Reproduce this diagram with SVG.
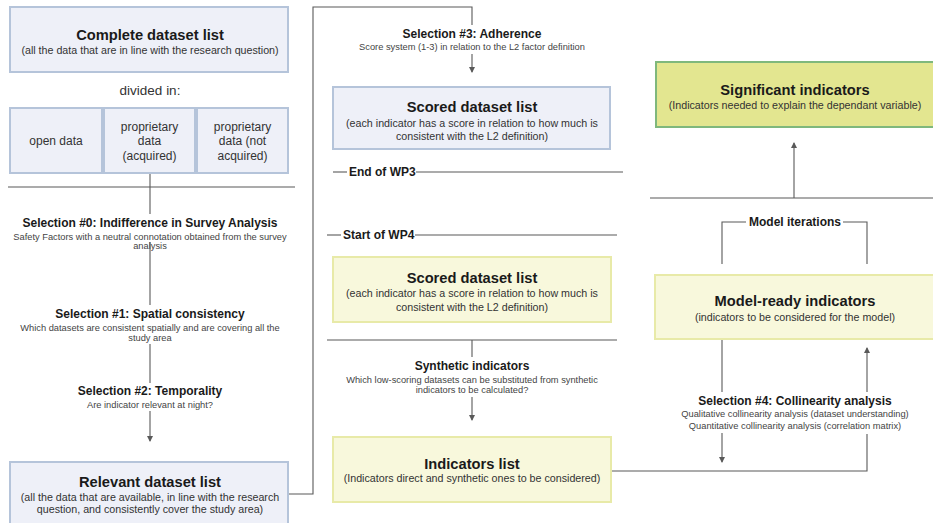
<svg xmlns="http://www.w3.org/2000/svg" width="933" height="523" viewBox="0 0 933 523">
<defs>
<style>
text{font-family:"Liberation Sans",Arial,sans-serif;text-anchor:middle;}
.bt{font-size:14.7px;font-weight:bold;fill:#1a1a1a;}
.bs{font-size:10.7px;fill:#333;}
.st{font-size:12px;font-weight:bold;fill:#1a1a1a;}
.ss{font-size:9.3px;fill:#444;}
.sm{font-size:12px;fill:#333;}
.blue{fill:#eef0f8;stroke:#b5c4da;stroke-width:2;}
.yel{fill:#f8f8dc;stroke:#e8eaa8;stroke-width:2;}
.grn{fill:#e3e690;stroke:#7fb87c;stroke-width:2;}
.ln{fill:none;stroke:#595959;stroke-width:1.1;}
</style>
<marker id="ah" markerWidth="6" markerHeight="6" refX="5" refY="3" orient="auto" markerUnits="userSpaceOnUse">
<path d="M0,0 L6,3 L0,6 Z" fill="#595959"/>
</marker>
</defs>
<rect width="933" height="523" fill="#ffffff"/>

<g id="connectors">
<line class="ln" x1="8" y1="187" x2="295" y2="187"/>
<path class="ln" d="M150,173 V214"/>
<path class="ln" d="M150,242 V305"/>
<path class="ln" d="M150,344 V383"/>
<path class="ln" d="M150,411 V441" marker-end="url(#ah)"/>
<path class="ln" d="M288,494 H313 V7 H472 V25"/>
<path class="ln" d="M472,54 V72" marker-end="url(#ah)"/>
<path class="ln" d="M333,172 H347"/>
<path class="ln" d="M416,172 H623"/>
<path class="ln" d="M327,235 H341"/>
<path class="ln" d="M415,235 H617"/>
<path class="ln" d="M327,340 H617"/>
<path class="ln" d="M472,340 V357"/>
<path class="ln" d="M472,397 V420" marker-end="url(#ah)"/>
<path class="ln" d="M611,471 H867 V434"/>
<path class="ln" d="M867,392 V348" marker-end="url(#ah)"/>
<path class="ln" d="M722,340 V392"/>
<path class="ln" d="M722,433 V462" marker-end="url(#ah)"/>
<path class="ln" d="M722,264 V222 H746"/>
<path class="ln" d="M843,222 H867 V264"/>
<line class="ln" x1="650" y1="198" x2="933" y2="198"/>
<path class="ln" d="M794,198 V143" marker-end="url(#ah)"/>
</g>

<g id="complete-dataset-list">
<rect class="blue" x="10" y="7" width="278" height="65"/>
<text class="bt" x="150" y="40">Complete dataset list</text>
<text class="bs" x="150" y="53.5">(all the data that are in line with the research question)</text>
</g>
<g id="divided-in">
<text style="font-size:13.5px;fill:#333" x="150" y="95">divided in:</text>
</g>
<g id="open-data">
<rect class="blue" x="10" y="108" width="92" height="65"/>
<text class="sm" x="56" y="145">open data</text>
</g>
<g id="proprietary-acquired">
<rect class="blue" x="104" y="108" width="91" height="65"/>
<text class="sm" x="149.5" y="131">proprietary</text>
<text class="sm" x="149.5" y="145">data</text>
<text class="sm" x="149.5" y="160">(acquired)</text>
</g>
<g id="proprietary-not-acquired">
<rect class="blue" x="197" y="108" width="91" height="65"/>
<text class="sm" x="242.5" y="131">proprietary</text>
<text class="sm" x="242.5" y="145">data (not</text>
<text class="sm" x="242.5" y="160">acquired)</text>
</g>

<g id="selection-0">
<text class="st" x="150" y="227">Selection #0: Indifference in Survey Analysis</text>
<text class="ss" x="150" y="239.5">Safety Factors with a neutral connotation obtained from the survey</text>
<text class="ss" x="150" y="249">analysis</text>
</g>
<g id="selection-1">
<text class="st" x="150" y="317.5">Selection #1: Spatial consistency</text>
<text class="ss" x="150" y="330.5">Which datasets are consistent spatially and are covering all the</text>
<text class="ss" x="150" y="340.5">study area</text>
</g>
<g id="selection-2">
<text class="st" x="150" y="395">Selection #2: Temporality</text>
<text class="ss" x="150" y="407.5">Are indicator relevant at night?</text>
</g>
<g id="relevant-dataset-list">
<rect class="blue" x="10" y="462" width="278" height="70"/>
<text class="bt" x="150" y="486.5">Relevant dataset list</text>
<text class="bs" x="150" y="500.5">(all the data that are available, in line with the research</text>
<text class="bs" x="150" y="513">question, and consistently cover the study area)</text>
</g>

<g id="selection-3">
<text class="st" x="472" y="38">Selection #3: Adherence</text>
<text class="ss" x="472" y="50.3">Score system (1-3) in relation to the L2 factor definition</text>
</g>
<g id="scored-dataset-list-wp3">
<rect class="blue" x="333" y="87" width="277" height="62"/>
<text class="bt" x="472" y="112">Scored dataset list</text>
<text class="bs" x="472" y="126.5">(each indicator has a score in relation to how much is</text>
<text class="bs" x="472" y="139.5">consistent with the L2 definition)</text>
</g>
<g id="end-of-wp3">
<text class="st" x="349" y="176" style="text-anchor:start">End of WP3</text>
</g>
<g id="start-of-wp4">
<text class="st" x="343" y="239" style="text-anchor:start">Start of WP4</text>
</g>
<g id="scored-dataset-list-wp4">
<rect class="yel" x="333" y="257" width="278" height="65"/>
<text class="bt" x="472" y="282.5">Scored dataset list</text>
<text class="bs" x="472" y="296.5">(each indicator has a score in relation to how much is</text>
<text class="bs" x="472" y="310.5">consistent with the L2 definition)</text>
</g>
<g id="synthetic-indicators">
<text class="st" x="472" y="369.5">Synthetic indicators</text>
<text class="ss" x="472" y="382.5">Which low-scoring datasets can be substituted from synthetic</text>
<text class="ss" x="472" y="392.5">indicators to be calculated?</text>
</g>
<g id="indicators-list">
<rect class="yel" x="333" y="437" width="278" height="65"/>
<text class="bt" x="472" y="468.5">Indicators list</text>
<text class="bs" x="472" y="482">(Indicators direct and synthetic ones to be considered)</text>
</g>

<g id="significant-indicators">
<rect class="grn" x="656" y="62" width="285" height="65"/>
<text class="bt" x="795" y="94.5">Significant indicators</text>
<text class="bs" x="795" y="109">(Indicators needed to explain the dependant variable)</text>
</g>
<g id="model-iterations">
<text class="st" x="795" y="226">Model iterations</text>
</g>
<g id="model-ready-indicators">
<rect class="yel" x="655" y="275" width="286" height="64"/>
<text class="bt" x="795" y="306">Model-ready indicators</text>
<text class="bs" x="795" y="321">(indicators to be considered for the model)</text>
</g>
<g id="selection-4">
<text class="st" x="795" y="404.5">Selection #4: Collinearity analysis</text>
<text class="ss" x="795" y="416.5">Qualitative collinearity analysis (dataset understanding)</text>
<text class="ss" x="795" y="428.5">Quantitative collinearity analysis (correlation matrix)</text>
</g>
</svg>
